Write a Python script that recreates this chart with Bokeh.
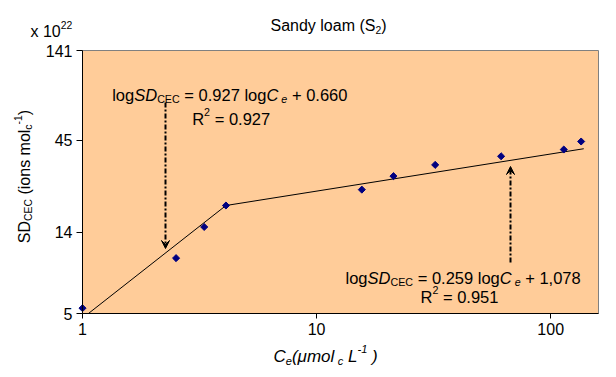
import math
from bokeh.plotting import figure
from bokeh.models import Range1d, FixedTicker, NumeralTickFormatter, Label, Arrow, VeeHead
from bokeh.embed import file_html
from bokeh.resources import INLINE

# ---------------- data ----------------
ce = [1.0, 2.51, 3.31, 4.10, 15.6, 21.3, 32.1, 61.4, 113.7, 134.9]
sd_cec = [5.35, 10.1, 15.0, 19.7, 24.1, 28.6, 33.0, 36.8, 40.1, 44.4]
fit1_ce = [1.06, 4.10]
fit1_sd = [5.0, 19.7]
fit2_ce = [4.10, 138.4]
fit2_sd = [19.7, 40.5]
x_ticks = [1, 10, 100]
y_ticks = [5, 14, 45, 141]
x_lim = (1, 160)
y_lim = (5, 141)

FONT = "Liberation Sans"

# ---------------- layout (page pixels) ----------------
CW, CH = 608, 369                   # canvas size
FL, FT, FW, FH = 82, 50, 516, 263   # plot area left, top, width, height

def dx(px):
    a, b = math.log10(x_lim[0]), math.log10(x_lim[1])
    return 10 ** (a + (px - FL) / FW * (b - a))

def dy(py):
    a, b = math.log10(y_lim[0]), math.log10(y_lim[1])
    return 10 ** (a + (FT + FH - py) / FH * (b - a))

AW = {' ': 278, '.': 278, ',': 278, '=': 584, '+': 584, '-': 333, '(': 333, ')': 333,
      'C': 722, 'D': 722, 'E': 667, 'L': 556, 'R': 722, 'S': 667,
      'a': 556, 'c': 500, 'd': 556, 'e': 556, 'g': 556, 'i': 222, 'l': 222, 'm': 833,
      'n': 556, 'o': 556, 's': 500, 'u': 556, 'x': 500, 'y': 500, 'μ': 576}

def tw(s, size):
    return sum(AW.get(c, 556) for c in s) * size / 1000.0

# The frame covers the whole canvas; axes are pinned to the plot area edges.
p = figure(x_axis_type="log", y_axis_type="log",
           x_range=Range1d(dx(0), dx(CW)), y_range=Range1d(dy(CH), dy(0)),
           frame_width=CW, frame_height=CH,
           min_border=0, min_border_left=0, min_border_right=0,
           min_border_top=0, min_border_bottom=0,
           output_backend="svg", toolbar_location=None)

p.background_fill_color = "white"
p.border_fill_color = "white"
p.outline_line_color = None
p.xgrid.visible = False
p.ygrid.visible = False

# plot area
p.quad(left=[x_lim[0]], right=[x_lim[1]], bottom=[y_lim[0]], top=[y_lim[1]],
       fill_color="#FFCC99", line_color="#808080", line_width=1)

for ax, ticks, tout, loc, bnds in ((p.xaxis[0], x_ticks, 5, y_lim[0], x_lim),
                                   (p.yaxis[0], y_ticks, 6, x_lim[0], y_lim)):
    ax.fixed_location = loc
    ax.bounds = bnds
    ax.ticker = FixedTicker(ticks=ticks)
    ax.formatter = NumeralTickFormatter(format="0")
    ax.major_tick_out = tout
    ax.major_tick_in = 0
    ax.minor_tick_line_color = None
    ax.axis_line_color = "black"
    ax.major_tick_line_color = "black"
    ax.major_label_text_font = FONT
    ax.major_label_text_font_size = "16px"
    ax.major_label_text_color = "black"
    ax.major_label_standoff = 4

# fit lines and points
p.line(fit1_ce, fit1_sd, line_color="black", line_width=1)
p.line(fit2_ce, fit2_sd, line_color="black", line_width=1)
p.scatter(ce, sd_cec, marker="square", angle=math.pi / 4, size=5,
          fill_color="#000080", line_color="#000080")

# ---------------- rich text helpers ----------------
def rich(pieces, x0, base, size, sub_scale=0.65, rotated=False, align_center=False):
    sizes = [size if k == "n" else size * sub_scale for (_, k, _) in pieces]
    total = sum(tw(t, s) for (t, k, st), s in zip(pieces, sizes))
    cur = (x0 + total / 2 if rotated else x0 - total / 2) if align_center else x0
    sign = -1 if rotated else 1
    for (text, kind, style), s in zip(pieces, sizes):
        shift = 0 if kind == "n" else (0.25 * size if kind == "sub" else -0.42 * size)
        lead = len(text) - len(text.lstrip(" "))
        cur += sign * tw(" " * lead, s)
        body = text.strip(" ")
        if not rotated:
            px, py = cur, base + shift
        else:
            px, py = base + shift, cur
        lab = Label(x=dx(px), y=dy(py), text=body, angle=(math.pi / 2 if rotated else 0),
                    text_font=FONT, text_font_size=f"{s:.1f}px",
                    text_font_style=style, text_color="black",
                    text_align="left", text_baseline="alphabetic")
        p.add_layout(lab)
        cur += sign * tw(text.lstrip(" "), s)

# title
rich([("Sandy loam (S", "n", "normal"), ("2", "sub", "normal"), (")", "n", "normal")],
     328, 25, 16, align_center=True)
# multiplier
rich([("x 10", "n", "normal"), ("22", "sup", "normal")], 30, 31, 16)
# y-axis label (rotated)
rich([("SD", "n", "normal"), ("CEC", "sub", "normal"), (" (ions mol", "n", "normal"),
      ("c", "sub", "normal"), ("-1", "sup", "normal"), (")", "n", "normal")],
     176, 24, 16, rotated=True, align_center=True)
# x-axis label
rich([("C", "n", "italic"), ("e", "sub", "italic"), ("(μmol", "n", "italic"),
      (" c", "sub", "italic"), (" L", "n", "italic"), ("-1", "sup", "italic"),
      (" )", "n", "italic")], 273, 356, 17)

# equations
eq_size = 16.5
rich([("log", "n", "normal"), ("SD", "n", "italic"), ("CEC", "sub", "normal"),
      (" = 0.927 log", "n", "normal"), ("C", "n", "italic"), (" e", "sub", "italic"),
      (" + 0.660", "n", "normal")], 111.7, 94.5, eq_size)
rich([("R", "n", "normal"), ("2", "sup", "normal"), (" = 0.927", "n", "normal")],
     191.7, 118.3, eq_size)
rich([("log", "n", "normal"), ("SD", "n", "italic"), ("CEC", "sub", "normal"),
      (" = 0.259 log", "n", "normal"), ("C", "n", "italic"), (" e", "sub", "italic"),
      (" + 1,078", "n", "normal")], 345, 277.7, eq_size)
rich([("R", "n", "normal"), ("2", "sup", "normal"), (" = 0.951", "n", "normal")],
     420, 296.7, eq_size)

# arrows
for (ax_px, y0, y1) in ((165, 102, 248), (510, 262, 166)):
    p.add_layout(Arrow(x_start=dx(ax_px), y_start=dy(y0), x_end=dx(ax_px), y_end=dy(y1),
                       line_color="black", line_width=2, line_dash="5 2 2 2",
                       end=VeeHead(size=8, fill_color="black", line_color="black",
                                   line_width=1)))

open("out.html", "w").write(file_html(p, INLINE))
